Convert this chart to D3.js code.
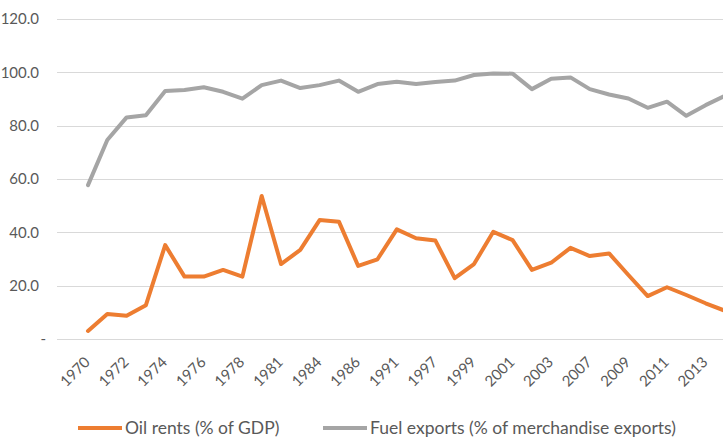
<!DOCTYPE html>
<html>
<head>
<meta charset="utf-8">
<script src="https://cdn.jsdelivr.net/npm/d3@7"></script>
<style>
  body { margin: 0; background: #fff; }
  svg { display: block; font-family: Lato, "Open Sans", sans-serif; }
</style>
</head>
<body>
<div id="chart"></div>
<script>
var width = 723, height = 437;

// categories (x axis is categorical, years are not evenly spaced)
var years = ["1970","1971","1972","1973","1974","1975","1976","1977","1978","1979",
             "1981","1982","1984","1985","1986","1990","1991","1996","1997","1998",
             "1999","2000","2001","2002","2003","2005","2007","2008","2009","2010",
             "2011","2012","2013","2014"];
var labelYears = ["1970","1972","1974","1976","1978","1981","1984","1986","1991","1997",
                  "1999","2001","2003","2007","2009","2011","2013"];

var oilRents = [3.0, 9.4, 8.7, 12.7, 35.2, 23.4, 23.4, 25.9, 23.4, 53.6,
                28.1, 33.4, 44.6, 44.0, 27.4, 29.9, 41.1, 37.8, 36.9, 22.8,
                28.1, 40.2, 37.1, 25.9, 28.6, 34.2, 31.1, 32.1, 24.0, 16.1,
                19.4, 16.5, 13.4, 10.6];
var fuelExports = [57.7, 74.6, 83.1, 83.9, 93.0, 93.4, 94.4, 92.7, 90.1, 95.2,
                   96.9, 94.1, 95.2, 96.9, 92.7, 95.6, 96.5, 95.6, 96.4, 96.9,
                   99.0, 99.6, 99.5, 93.7, 97.6, 98.1, 93.7, 91.7, 90.2, 86.7,
                   89.0, 83.7, 87.7, 91.2];

var yTicks = [0, 20, 40, 60, 80, 100, 120];

var series = [
  {name: "Oil rents (% of GDP)", values: oilRents, color: "#ED7D31"},
  {name: "Fuel exports (% of merchandise exports)", values: fuelExports, color: "#A5A5A5"}
];

var svg = d3.select("#chart").append("svg")
    .attr("width", width).attr("height", height);

var plotLeft = 57, step = 19.3, firstX = 88;

var x = d3.scalePoint()
    .domain(years)
    .range([firstX, firstX + step * (years.length - 1)]);

var y = d3.scaleLinear()
    .domain([0, 120])
    .range([339, 19]);

/* gridlines */
svg.append("g").selectAll("line")
    .data(yTicks)
    .enter().append("line")
    .attr("x1", plotLeft).attr("x2", width + 40)
    .attr("y1", function(d) { return Math.round(y(d)) + 0.5; })
    .attr("y2", function(d) { return Math.round(y(d)) + 0.5; })
    .attr("stroke", "#D9D9D9")
    .attr("stroke-width", 1);

/* y labels */
svg.append("g").selectAll("text")
    .data(yTicks)
    .enter().append("text")
    .attr("x", function(d) { return d === 0 ? 46 : 39; })
    .attr("y", function(d) { return y(d); })
    .attr("dy", "0.35em")
    .attr("text-anchor", "end")
    .attr("fill", "#595959")
    .style("font-size", "15px")
    .text(function(d) { return d === 0 ? "-" : d.toFixed(1); });

/* x labels */
svg.append("g").selectAll("text")
    .data(labelYears)
    .enter().append("text")
    .attr("transform", function(d) { return "translate(" + (x(d) + 3) + ",363) rotate(-45)"; })
    .attr("text-anchor", "end")
    .attr("fill", "#595959")
    .style("font-size", "15px")
    .text(function(d) { return d; });

/* lines */
var line = d3.line()
    .x(function(d, i) { return x(years[i]); })
    .y(function(d) { return y(d); });

svg.append("g").selectAll("path")
    .data(series.slice().reverse())
    .enter().append("path")
    .attr("d", function(d) { return line(d.values); })
    .attr("fill", "none")
    .attr("stroke", function(d) { return d.color; })
    .attr("stroke-width", 4)
    .attr("stroke-linejoin", "round")
    .attr("stroke-linecap", "round");

/* legend */
var legendX = [78, 323];
var leg = svg.append("g").selectAll("g")
    .data(series)
    .enter().append("g")
    .attr("transform", function(d, i) { return "translate(" + legendX[i] + ",428)"; });

leg.append("line")
    .attr("x1", 0).attr("x2", 44)
    .attr("stroke", function(d) { return d.color; })
    .attr("stroke-width", 4);

leg.append("text")
    .attr("x", 47)
    .attr("dy", "0.35em")
    .attr("fill", "#595959")
    .style("font-size", "17.5px")
    .text(function(d) { return d.name; });
</script>
</body>
</html>
